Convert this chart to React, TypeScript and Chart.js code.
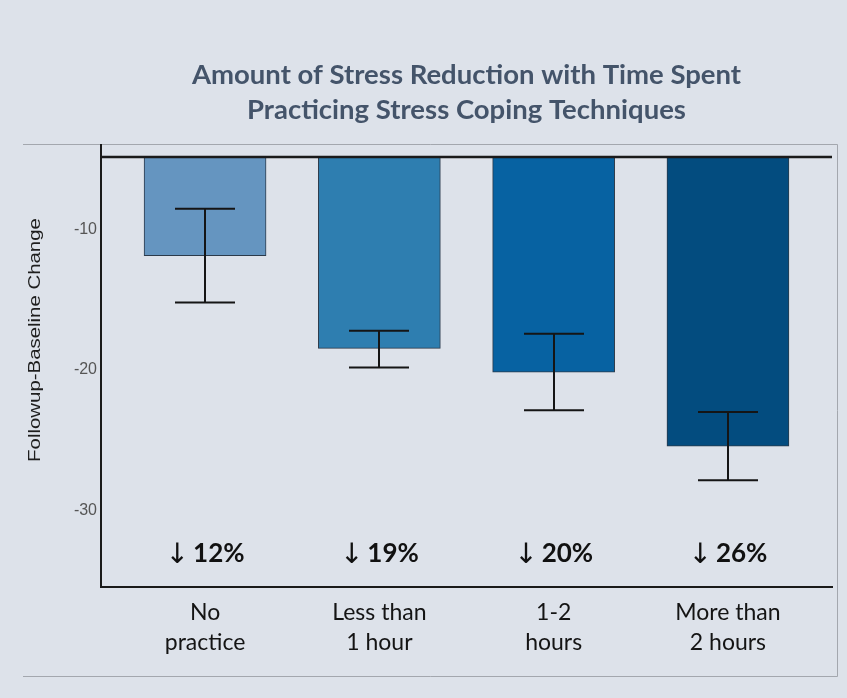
import { useEffect, useRef } from "react";
import { Chart, registerables } from "chart.js";

Chart.register(...registerables);

const TITLE_LINES = [
  "Amount of Stress Reduction with Time Spent",
  "Practicing Stress Coping Techniques",
];
const Y_LABEL = "Followup-Baseline Change";
const CATEGORIES = [
  ["No", "practice"],
  ["Less than", "1 hour"],
  ["1-2", "hours"],
  ["More than", "2 hours"],
];
const POSITIONS = [1, 2, 3, 4];
const MEANS = [-11.86, -18.46, -20.15, -25.41];
const ERR_HIGH = [-8.52, -17.2, -17.42, -22.99];
const ERR_LOW = [-15.2, -19.82, -22.86, -27.85];
const PERCENTS = ["12%", "19%", "20%", "26%"];
const Y_TICKS = [-10, -20, -30];
const Y_MIN = -35.44;
const Y_MAX = -4.84;
const X_MIN = 0.403;
const X_MAX = 4.597;
const COLORS = ["#6595c0", "#2e7eb0", "#0762a2", "#034c7f"];

const BG = "#dde2ea";

const decorPlugin = {
  id: "decor",
  beforeDraw(chart: any) {
    const { ctx, width, height } = chart;
    ctx.save();
    ctx.fillStyle = BG;
    ctx.fillRect(0, 0, width, height);
    // frame
    ctx.strokeStyle = "#a3a7ae";
    ctx.lineWidth = 1;
    ctx.beginPath();
    ctx.moveTo(23, 144.5);
    ctx.lineTo(837.5, 144.5);
    ctx.lineTo(837.5, 676.5);
    ctx.lineTo(23, 676.5);
    ctx.stroke();
    // title
    const area = chart.chartArea;
    const cx = (area.left + area.right) / 2;
    ctx.fillStyle = "#44546a";
    ctx.font = "bold 27.5px Lato";
    ctx.textAlign = "center";
    ctx.textBaseline = "alphabetic";
    ctx.fillText(TITLE_LINES[0], cx, 84);
    ctx.fillText(TITLE_LINES[1], cx, 119);
    // y label
    ctx.save();
    ctx.translate(35, 340);
    ctx.rotate(-Math.PI / 2);
    ctx.scale(1.2, 1);
    ctx.fillStyle = "#1e1e1e";
    ctx.font = "17px 'Liberation Sans'";
    ctx.textAlign = "center";
    ctx.textBaseline = "middle";
    ctx.fillText(Y_LABEL, 0, 0);
    ctx.restore();
    ctx.restore();
  },
  afterDatasetsDraw(chart: any) {
    const { ctx } = chart;
    const area = chart.chartArea;
    const xs = chart.scales.x;
    const ys = chart.scales.y;
    ctx.save();
    // error bars
    ctx.strokeStyle = "#151515";
    ctx.lineWidth = 2;
    POSITIONS.forEach((p, i) => {
      const px = Math.round(xs.getPixelForValue(p));
      const yTop = ys.getPixelForValue(ERR_HIGH[i]);
      const yBot = ys.getPixelForValue(ERR_LOW[i]);
      ctx.beginPath();
      ctx.moveTo(px, yTop);
      ctx.lineTo(px, yBot);
      ctx.moveTo(px - 30, yTop);
      ctx.lineTo(px + 30, yTop);
      ctx.moveTo(px - 30, yBot);
      ctx.lineTo(px + 30, yBot);
      ctx.stroke();
    });
    // baseline line at top of plot
    const yBase = ys.getPixelForValue(Y_MAX);
    ctx.strokeStyle = "#1a1a1a";
    ctx.lineWidth = 2.5;
    ctx.beginPath();
    ctx.moveTo(area.left, yBase);
    ctx.lineTo(area.right, yBase);
    ctx.stroke();
    // y axis extension up to frame
    ctx.lineWidth = 2;
    ctx.beginPath();
    ctx.moveTo(area.left, 144);
    ctx.lineTo(area.left, yBase);
    ctx.stroke();
    // percent labels
    ctx.fillStyle = "#111111";
    ctx.textBaseline = "alphabetic";
    POSITIONS.forEach((p, i) => {
      const px = xs.getPixelForValue(p);
      ctx.font = "28px 'DejaVu Sans'";
      const arrow = "\u2193";
      const aw = ctx.measureText(arrow).width;
      ctx.font = "bold 26px Lato";
      const tw = ctx.measureText(PERCENTS[i]).width;
      const gap = 4;
      const start = px - (aw + gap + tw) / 2;
      ctx.textAlign = "left";
      ctx.font = "28px 'DejaVu Sans'";
      ctx.fillText(arrow, start, 563);
      ctx.font = "bold 26px Lato";
      ctx.fillText(PERCENTS[i], start + aw + gap, 562);
    });
    ctx.restore();
  },
};

export default function App() {
  const ref = useRef<HTMLCanvasElement | null>(null);
  useEffect(() => {
    document.body.style.margin = "0";
    const canvas = ref.current;
    if (!canvas) return;
    const chart = new Chart(canvas, {
      type: "bar",
      data: {
        datasets: [
          {
            data: POSITIONS.map((p, i) => ({ x: p, y: [Y_MAX, MEANS[i]] })) as any,
            backgroundColor: COLORS,
            borderColor: "#2b3a4a",
            borderWidth: 1,
            borderSkipped: false,
            barThickness: 122,
          },
        ],
      },
      options: {
        animation: false,
        responsive: false,
        devicePixelRatio: 1,
        layout: { padding: { left: 0, right: 15, top: 157, bottom: 0 } },
        plugins: {
          legend: { display: false },
          title: { display: false },
          tooltip: { enabled: false },
        },
        scales: {
          x: {
            type: "linear",
            offset: false,
            min: X_MIN,
            max: X_MAX,
            grid: { display: false, drawTicks: false, offset: false },
            border: { display: true, color: "#1a1a1a", width: 2 },
            afterBuildTicks: (scale: any) => {
              scale.ticks = POSITIONS.map((v) => ({ value: v }));
            },
            afterFit: (scale: any) => {
              scale.height = 698 - 587;
            },
            ticks: {
              autoSkip: false,
              maxRotation: 0,
              padding: 11,
              color: "#141414",
              font: { family: "Lato", size: 23, lineHeight: 1.3 },
              callback: (v: any) => {
                const idx = POSITIONS.indexOf(Number(v));
                return idx >= 0 ? CATEGORIES[idx] : "";
              },
            },
          },
          y: {
            min: Y_MIN,
            max: Y_MAX,
            grid: { display: false, drawTicks: false },
            border: { display: true, color: "#1a1a1a", width: 2 },
            afterBuildTicks: (scale: any) => {
              scale.ticks = Y_TICKS.map((v) => ({ value: v }));
            },
            afterFit: (scale: any) => {
              scale.width = 101;
            },
            ticks: {
              padding: 4,
              color: "#555555",
              font: { family: "'Liberation Sans'", size: 16 },
            },
          },
        },
      },
      plugins: [decorPlugin],
    });
    return () => chart.destroy();
  }, []);
  return (
    <div style={{ width: 847, height: 698 }}>
      <canvas ref={ref} width={847} height={698} />
    </div>
  );
}
